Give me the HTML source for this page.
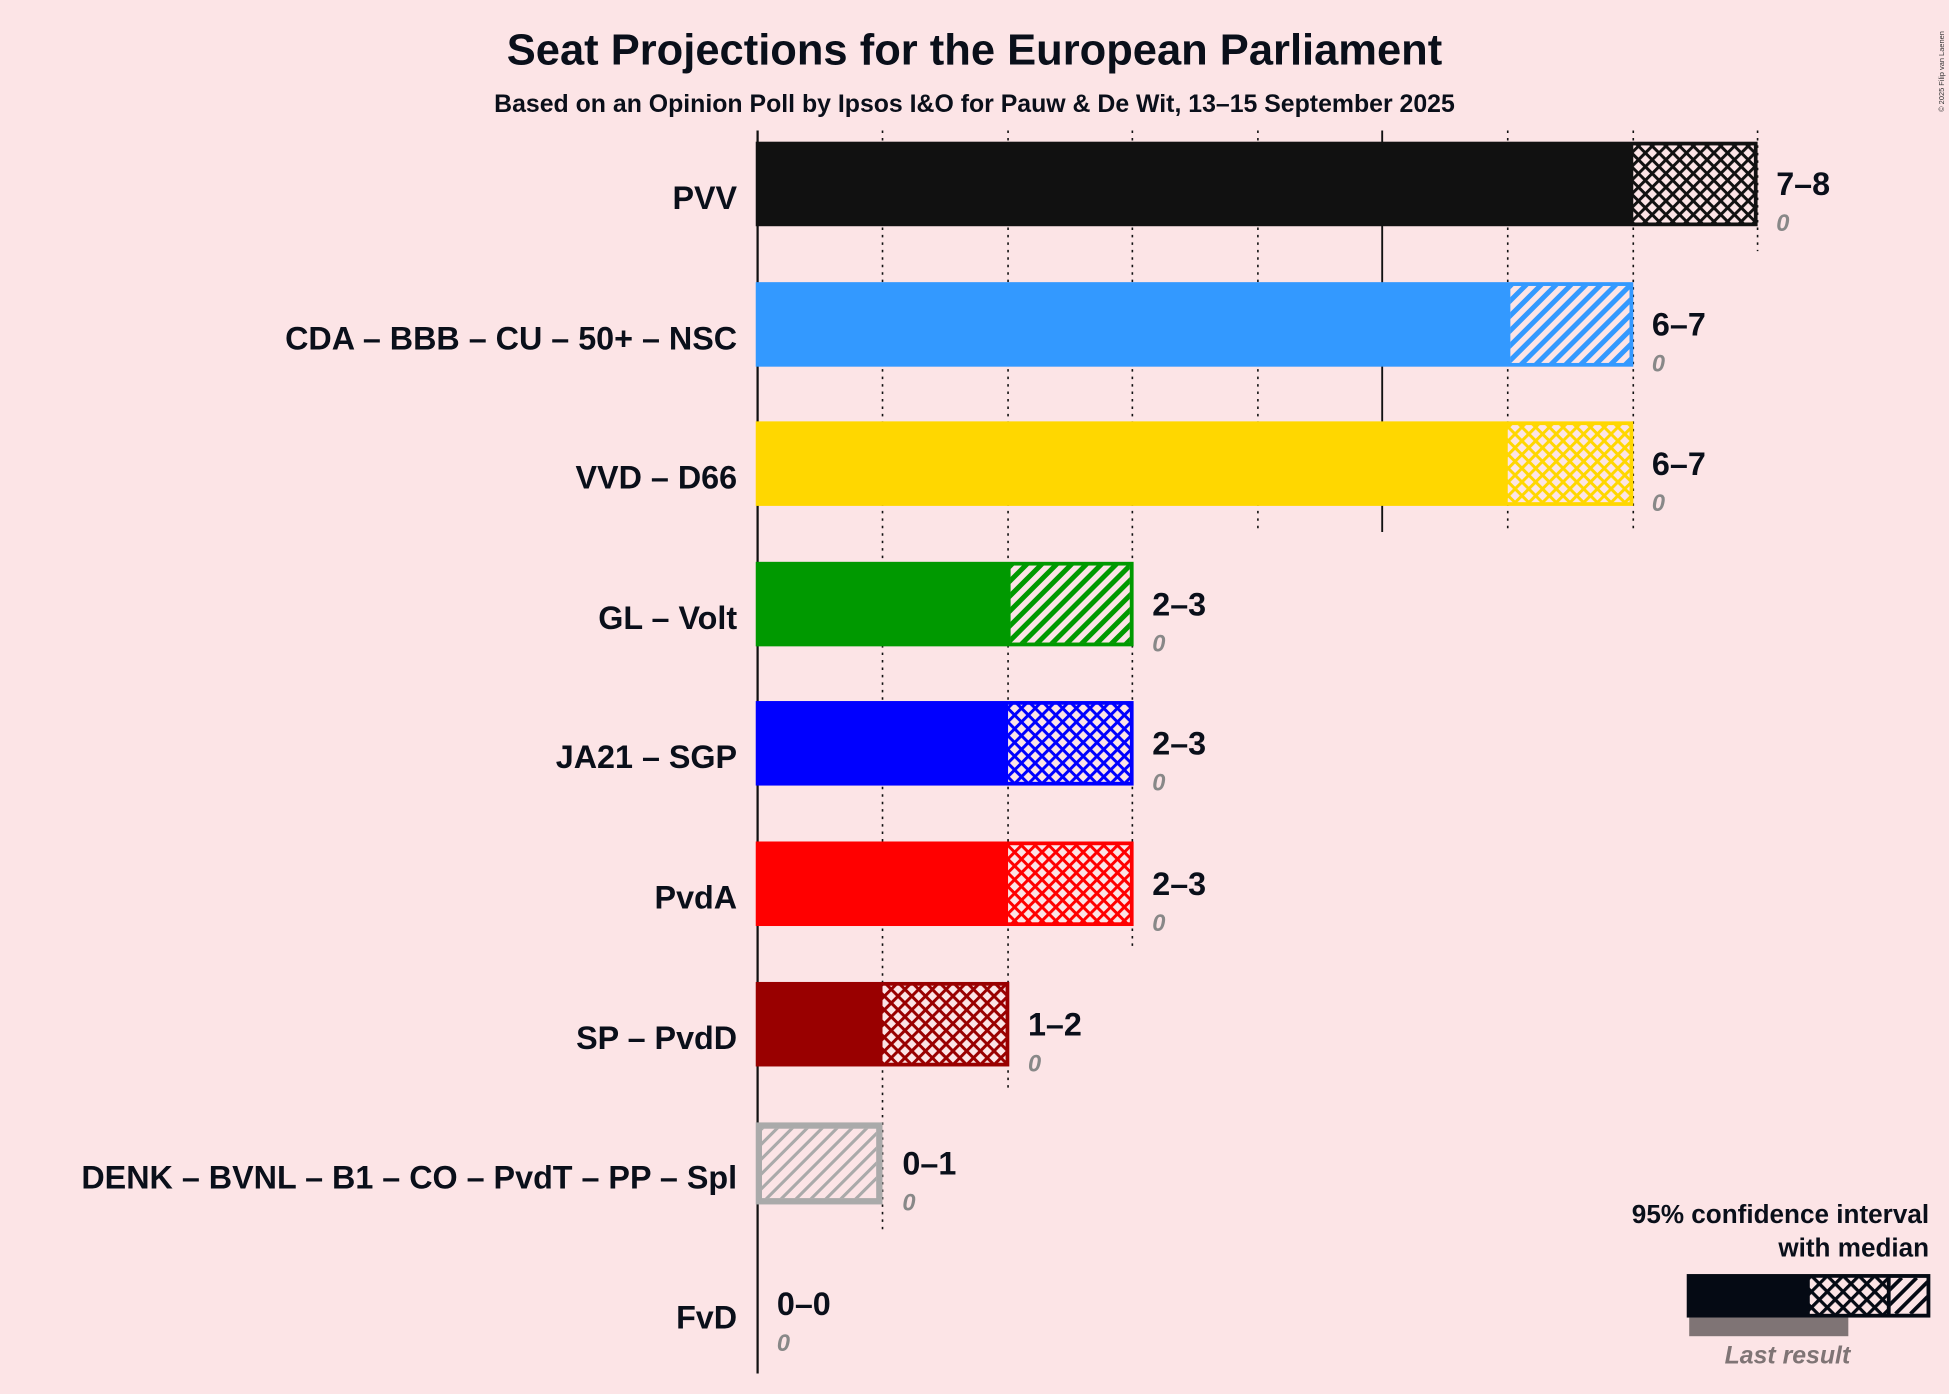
<!DOCTYPE html>
<html><head><meta charset="utf-8"><style>
html,body{margin:0;padding:0;background:#FCE4E6;}
svg{display:block;font-family:"Liberation Sans",sans-serif;}
</style></head><body>
<svg width="1949" height="1394" viewBox="0 0 1568 1121.5" xmlns="http://www.w3.org/2000/svg">
<defs>
<pattern id="cK" width="7.8" height="7.8" patternUnits="userSpaceOnUse" patternTransform="rotate(45)"><rect width="7.8" height="7.8" fill="#111"/><rect x="2.4" y="2.4" width="5.4" height="5.4" fill="#FCE4E6"/></pattern>
<pattern id="cY" width="7.8" height="7.8" patternUnits="userSpaceOnUse" patternTransform="rotate(45)"><rect width="7.8" height="7.8" fill="#FFD700"/><rect x="2.4" y="2.4" width="5.4" height="5.4" fill="#FCE4E6"/></pattern>
<pattern id="cB" width="7.8" height="7.8" patternUnits="userSpaceOnUse" patternTransform="rotate(45)"><rect width="7.8" height="7.8" fill="#0000FF"/><rect x="2.4" y="2.4" width="5.4" height="5.4" fill="#FCE4E6"/></pattern>
<pattern id="cR" width="7.8" height="7.8" patternUnits="userSpaceOnUse" patternTransform="rotate(45)"><rect width="7.8" height="7.8" fill="#FF0000"/><rect x="2.4" y="2.4" width="5.4" height="5.4" fill="#FCE4E6"/></pattern>
<pattern id="cD" width="7.8" height="7.8" patternUnits="userSpaceOnUse" patternTransform="rotate(45)"><rect width="7.8" height="7.8" fill="#990000"/><rect x="2.4" y="2.4" width="5.4" height="5.4" fill="#FCE4E6"/></pattern>
<pattern id="cL" width="9" height="9" patternUnits="userSpaceOnUse" patternTransform="rotate(45)"><rect width="9" height="9" fill="#050a14"/><rect x="2.6" y="2.6" width="6.4" height="6.4" fill="#FCE4E6"/></pattern>
</defs>
<style>
.g{stroke:#111;stroke-width:1.3;stroke-dasharray:2 4}
.lab{font-size:26px;font-weight:bold;fill:#0a0f1a;text-anchor:end}
.rng{font-size:26px;font-weight:bold;fill:#0a0f1a}
.z{font-size:19px;font-style:italic;font-weight:bold;fill:#888}
</style>
<rect width="1568" height="1121.5" fill="#FCE4E6"/>
<text x="784" y="52" text-anchor="middle" font-size="35" font-weight="bold" fill="#0a0f1a">Seat Projections for the European Parliament</text>
<text x="784" y="90" text-anchor="middle" font-size="20" font-weight="bold" fill="#0a0f1a">Based on an Opinion Poll by Ipsos I&amp;O for Pauw &amp; De Wit, 13–15 September 2025</text>
<text transform="translate(1564,90) rotate(-90)" font-size="6" fill="#333">© 2025 Filip van Laenen</text>
<line class="g" x1="710" y1="105" x2="710" y2="992"/>
<line class="g" x1="811" y1="105" x2="811" y2="878"/>
<line class="g" x1="911" y1="105" x2="911" y2="765"/>
<line class="g" x1="1012" y1="105" x2="1012" y2="428"/>
<line x1="1112" y1="105" x2="1112" y2="428" stroke="#111" stroke-width="1.5"/>
<line class="g" x1="1213" y1="105" x2="1213" y2="428"/>
<line class="g" x1="1314" y1="105" x2="1314" y2="428"/>
<line class="g" x1="1414" y1="105" x2="1414" y2="202"/>
<line x1="609.5" y1="105" x2="609.5" y2="1105" stroke="#111" stroke-width="1.8"/>

<rect x="608" y="114" width="806" height="68" fill="#111"/>
<rect x="1314" y="117" width="97" height="62" fill="url(#cK)"/>
<text class="lab" x="593" y="168">PVV</text>
<text class="rng" x="1429" y="157">7–8</text><text class="z" x="1429" y="186">0</text>

<rect x="608" y="227" width="706" height="68" fill="#3399FF"/>
<g transform="translate(1215,230)"><svg width="96" height="62"><rect width="96" height="62" fill="#FCE4E6"/><g stroke="#3399FF" stroke-width="4">
<line x1="-70" y1="70" x2="10" y2="-10"/><line x1="-58" y1="70" x2="22" y2="-10"/><line x1="-46" y1="70" x2="34" y2="-10"/><line x1="-34" y1="70" x2="46" y2="-10"/><line x1="-22" y1="70" x2="58" y2="-10"/><line x1="-10" y1="70" x2="70" y2="-10"/><line x1="2" y1="70" x2="82" y2="-10"/><line x1="14" y1="70" x2="94" y2="-10"/><line x1="26" y1="70" x2="106" y2="-10"/><line x1="38" y1="70" x2="118" y2="-10"/><line x1="50" y1="70" x2="130" y2="-10"/><line x1="62" y1="70" x2="142" y2="-10"/><line x1="74" y1="70" x2="154" y2="-10"/><line x1="86" y1="70" x2="166" y2="-10"/></g></svg></g>
<text class="lab" x="593" y="281">CDA – BBB – CU – 50+ – NSC</text>
<text class="rng" x="1329" y="270">6–7</text><text class="z" x="1329" y="299">0</text>

<rect x="608" y="339" width="706" height="68" fill="#FFD700"/>
<rect x="1213" y="342" width="98" height="62" fill="url(#cY)"/>
<text class="lab" x="593" y="393">VVD – D66</text>
<text class="rng" x="1329" y="382">6–7</text><text class="z" x="1329" y="411">0</text>

<rect x="608" y="452" width="304" height="68" fill="#009900"/>
<g transform="translate(813,455)"><svg width="96" height="62"><rect width="96" height="62" fill="#FCE4E6"/><g stroke="#009900" stroke-width="4">
<line x1="-70" y1="70" x2="10" y2="-10"/><line x1="-58" y1="70" x2="22" y2="-10"/><line x1="-46" y1="70" x2="34" y2="-10"/><line x1="-34" y1="70" x2="46" y2="-10"/><line x1="-22" y1="70" x2="58" y2="-10"/><line x1="-10" y1="70" x2="70" y2="-10"/><line x1="2" y1="70" x2="82" y2="-10"/><line x1="14" y1="70" x2="94" y2="-10"/><line x1="26" y1="70" x2="106" y2="-10"/><line x1="38" y1="70" x2="118" y2="-10"/><line x1="50" y1="70" x2="130" y2="-10"/><line x1="62" y1="70" x2="142" y2="-10"/><line x1="74" y1="70" x2="154" y2="-10"/><line x1="86" y1="70" x2="166" y2="-10"/></g></svg></g>
<text class="lab" x="593" y="506">GL – Volt</text>
<text class="rng" x="927" y="495">2–3</text><text class="z" x="927" y="524">0</text>

<rect x="608" y="564" width="304" height="68" fill="#0000FF"/>
<rect x="811" y="567" width="98" height="62" fill="url(#cB)"/>
<text class="lab" x="593" y="618">JA21 – SGP</text>
<text class="rng" x="927" y="607">2–3</text><text class="z" x="927" y="636">0</text>

<rect x="608" y="677" width="304" height="68" fill="#FF0000"/>
<rect x="811" y="680" width="98" height="62" fill="url(#cR)"/>
<text class="lab" x="593" y="731">PvdA</text>
<text class="rng" x="927" y="720">2–3</text><text class="z" x="927" y="749">0</text>

<rect x="608" y="790" width="204" height="68" fill="#990000"/>
<rect x="710" y="793" width="99" height="62" fill="url(#cD)"/>
<text class="lab" x="593" y="844">SP – PvdD</text>
<text class="rng" x="827" y="833">1–2</text><text class="z" x="827" y="862">0</text>

<rect x="608" y="903" width="102" height="66" fill="#AAAAAA"/>
<g transform="translate(613,908)"><svg width="92" height="56"><rect width="92" height="56" fill="#FCE4E6"/><g stroke="#AAAAAA" stroke-width="2.5">
<line x1="-70" y1="70" x2="10" y2="-10"/><line x1="-58" y1="70" x2="22" y2="-10"/><line x1="-46" y1="70" x2="34" y2="-10"/><line x1="-34" y1="70" x2="46" y2="-10"/><line x1="-22" y1="70" x2="58" y2="-10"/><line x1="-10" y1="70" x2="70" y2="-10"/><line x1="2" y1="70" x2="82" y2="-10"/><line x1="14" y1="70" x2="94" y2="-10"/><line x1="26" y1="70" x2="106" y2="-10"/><line x1="38" y1="70" x2="118" y2="-10"/><line x1="50" y1="70" x2="130" y2="-10"/><line x1="62" y1="70" x2="142" y2="-10"/></g></svg></g>
<text class="lab" x="593" y="956">DENK – BVNL – B1 – CO – PvdT – PP – Spl</text>
<text class="rng" x="726" y="945">0–1</text><text class="z" x="726" y="974">0</text>

<text class="lab" x="593" y="1069">FvD</text>
<text class="rng" x="625" y="1058">0–0</text><text class="z" x="625" y="1087">0</text>

<text x="1552" y="984" text-anchor="end" font-size="21" font-weight="bold" fill="#0a0f1a">95% confidence interval</text>
<text x="1552" y="1011" text-anchor="end" font-size="21" font-weight="bold" fill="#0a0f1a">with median</text>
<rect x="1359" y="1060" width="128" height="15" fill="#7f7475"/>
<rect x="1357" y="1025" width="196" height="35" fill="#050a14"/>
<rect x="1456" y="1028" width="62" height="29" fill="url(#cL)"/>
<g transform="translate(1521,1028)"><svg width="29" height="29"><rect width="29" height="29" fill="#FCE4E6"/><g stroke="#050a14" stroke-width="3"><line x1="-20" y1="29" x2="9" y2="0"/><line x1="-8" y1="29" x2="21" y2="0"/><line x1="4" y1="29" x2="33" y2="0"/><line x1="16" y1="29" x2="45" y2="0"/></g></svg></g>
<text x="1438" y="1097" text-anchor="middle" font-size="20" font-style="italic" font-weight="bold" fill="#7f7475">Last result</text>
</svg>
</body></html>
